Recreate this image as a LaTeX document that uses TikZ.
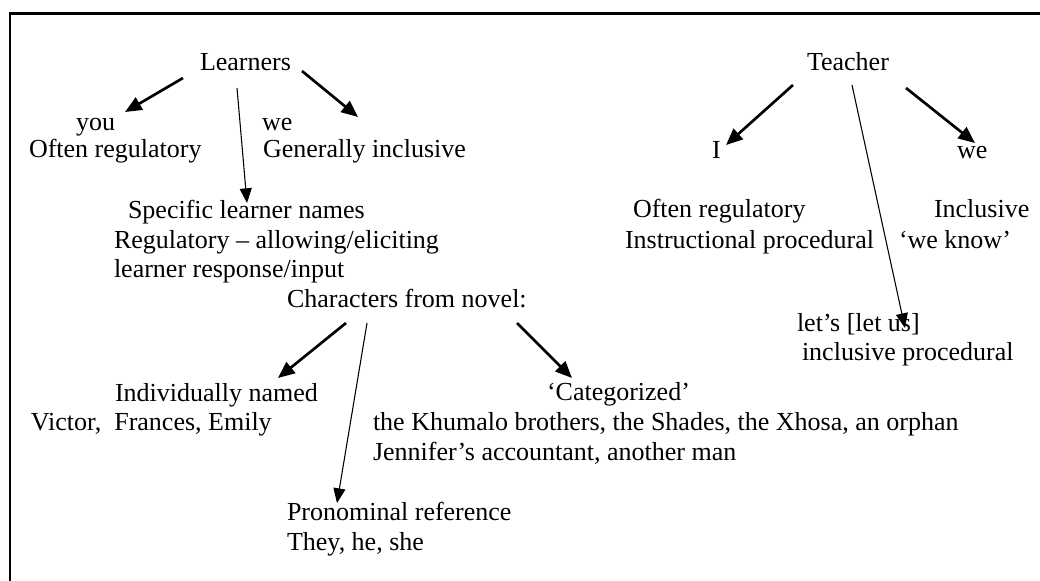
\documentclass[tikz,border=0pt]{standalone}
\usepackage{fontspec}
\setmainfont{Liberation Serif}
\usetikzlibrary{arrows.meta,calc}
\begin{document}
\begin{tikzpicture}[x=0.75pt,y=-0.75pt,
  txt/.style={inner sep=0pt,outer sep=0pt,anchor=base west,font=\fontsize{19.5}{22.5}\selectfont},
  bigarrow/.style={line width=2pt,-{Triangle[length=12.5pt,width=10.5pt]}},
  thinarrow/.style={line width=0.8pt,-{Triangle[length=11pt,width=9pt]}},
  frame/.style={line width=2.2pt}]
\useasboundingbox (0,0) rectangle (1040,581);
\draw[frame] (10,581) -- (10,13.5) -- (1040,13.5);
% Learners side
\node[txt] (learners) at (200,71) {Learners};
\node[txt] (you) at (76,131) {you};
\node[txt] (oftenL) at (29,158) {Often regulatory};
\node[txt] (weL) at (262,131) {we};
\node[txt] (gen) at (263,158) {Generally inclusive};
\node[txt] (specific) at (128,219) {Specific learner names};
\node[txt] (regul) at (114,249) {Regulatory – allowing/eliciting};
\node[txt] (resp) at (114,277) {learner response/input};
\node[txt] (chars) at (287,308) {Characters from novel:};
\node[txt] (indiv) at (115,401) {Individually named};
\node[txt] (victor) at (31,431) {Victor,\ \ Frances, Emily};
\node[txt] (categ) at (547,400) {‘Categorized’};
\node[txt] (khumalo) at (373,430) {the Khumalo brothers, the Shades, the Xhosa, an orphan};
\node[txt] (jennifer) at (373,460) {Jennifer’s accountant, another man};
\node[txt] (pron) at (287,520) {Pronominal reference};
\node[txt] (they) at (287,550) {They, he, she};
% Teacher side
\node[txt] (teacher) at (807,71) {Teacher};
\node[txt] (I) at (712,159) {I};
\node[txt] (weT) at (957,159) {we};
\node[txt] (oftenT) at (633,218) {Often regulatory};
\node[txt] (incl) at (934,218) {Inclusive};
\node[txt] (instr) at (625,249) {Instructional procedural};
\node[txt] (weknow) at (899,249) {‘we know’};
\node[txt] (lets) at (797,332) {let’s [let us]};
\node[txt] (inclproc) at (802,360) {inclusive procedural};
% connectors
\draw[bigarrow] ($(learners.base west)+(-17,7)$) -- ($(you.base west)+(49,-19)$);
\draw[bigarrow] ($(learners.base west)+(102,0)$) -- ($(weL.base west)+(96,-14)$);
\draw[thinarrow] ($(learners.base west)+(37,17)$) -- ($(specific.base west)+(119,-16)$);
\draw[bigarrow] ($(teacher.base west)+(-14,14)$) -- ($(I.base west)+(14,-14)$);
\draw[bigarrow] ($(teacher.base west)+(99,17)$) -- ($(weT.base west)+(18,-16)$);
\draw[thinarrow] ($(teacher.base west)+(45,14)$) -- ($(lets.base west)+(108,-4)$);
\draw[bigarrow] ($(chars.base west)+(59,15)$) -- ($(indiv.base west)+(163,-23)$);
\draw[thinarrow] ($(chars.base west)+(80,15)$) -- ($(pron.base west)+(50,-17)$);
\draw[bigarrow] ($(chars.base west)+(230,15)$) -- ($(categ.base west)+(25,-22)$);
\end{tikzpicture}
\end{document}
